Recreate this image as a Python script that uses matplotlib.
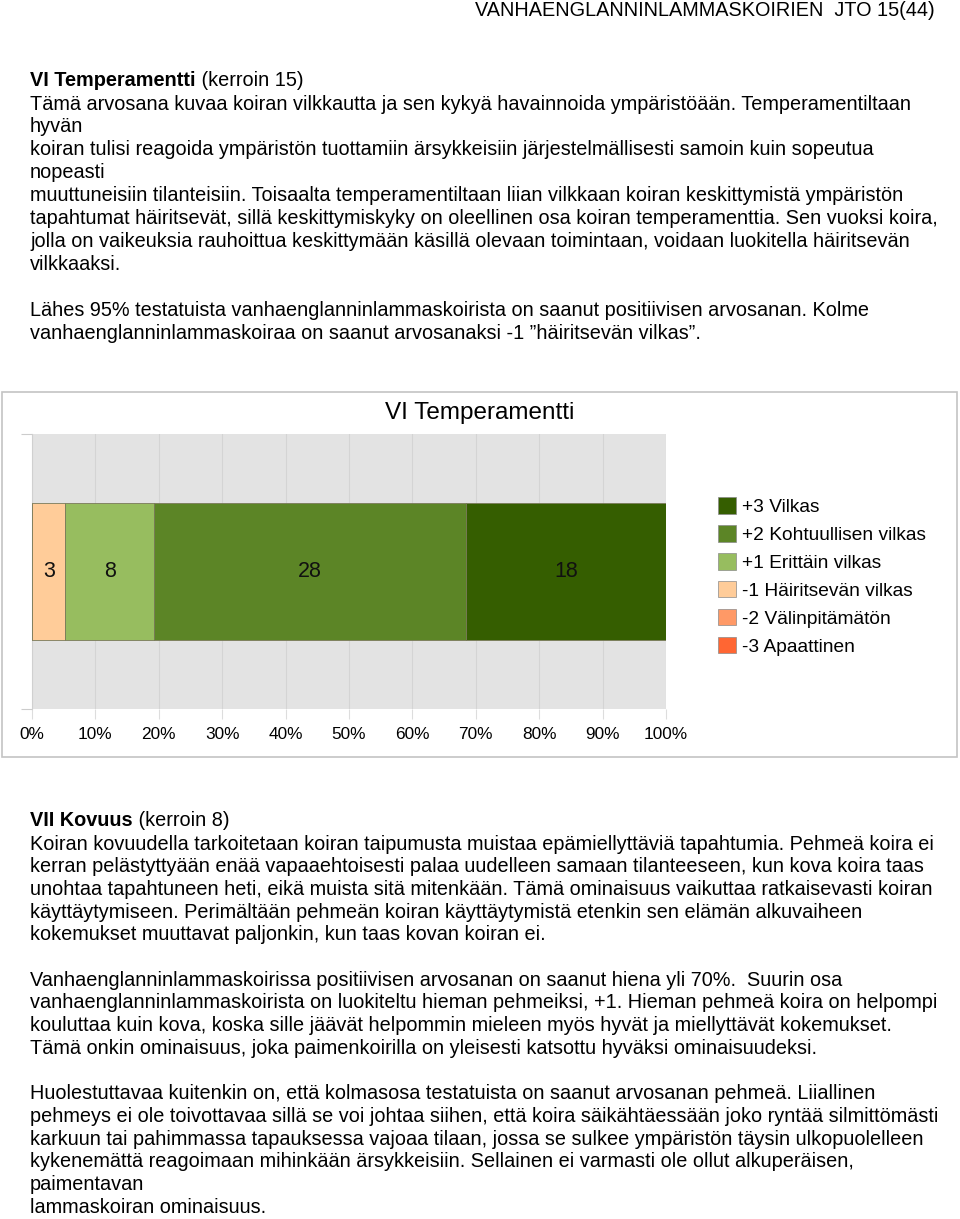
import matplotlib
matplotlib.use("Agg")
import matplotlib.pyplot as plt
from matplotlib.patches import Rectangle, Patch

plt.rcParams['font.family'] = ['Liberation Sans', 'DejaVu Sans']

# chart data: counts per grade, drawn left to right
grades = ["-3 Apaattinen", "-2 Välinpitämätön", "-1 Häiritsevän vilkas",
          "+1 Erittäin vilkas", "+2 Kohtuullisen vilkas", "+3 Vilkas"]
counts = [0, 0, 3, 8, 28, 18]
colors = ["#ff6633", "#ff9966", "#ffcc99", "#97bd5f", "#5c8526", "#355e00"]
xticks = [0, 10, 20, 30, 40, 50, 60, 70, 80, 90, 100]
chart_title = "VI Temperamentti"

header = "VANHAENGLANNINLAMMASKOIRIEN  JTO 15(44)"

top_lines = [
    "Tämä arvosana kuvaa koiran vilkkautta ja sen kykyä havainnoida ympäristöään. Temperamentiltaan",
    "hyvän",
    "koiran tulisi reagoida ympäristön tuottamiin ärsykkeisiin järjestelmällisesti samoin kuin sopeutua",
    "nopeasti",
    "muuttuneisiin tilanteisiin. Toisaalta temperamentiltaan liian vilkkaan koiran keskittymistä ympäristön",
    "tapahtumat häiritsevät, sillä keskittymiskyky on oleellinen osa koiran temperamenttia. Sen vuoksi koira,",
    "jolla on vaikeuksia rauhoittua keskittymään käsillä olevaan toimintaan, voidaan luokitella häiritsevän",
    "vilkkaaksi.",
    "",
    "Lähes 95% testatuista vanhaenglanninlammaskoirista on saanut positiivisen arvosanan. Kolme",
    "vanhaenglanninlammaskoiraa on saanut arvosanaksi -1 \u201dhäiritsevän vilkas\u201d.",
]

bottom_lines = [
    "Koiran kovuudella tarkoitetaan koiran taipumusta muistaa epämiellyttäviä tapahtumia. Pehmeä koira ei",
    "kerran pelästyttyään enää vapaaehtoisesti palaa uudelleen samaan tilanteeseen, kun kova koira taas",
    "unohtaa tapahtuneen heti, eikä muista sitä mitenkään. Tämä ominaisuus vaikuttaa ratkaisevasti koiran",
    "käyttäytymiseen. Perimältään pehmeän koiran käyttäytymistä etenkin sen elämän alkuvaiheen",
    "kokemukset muuttavat paljonkin, kun taas kovan koiran ei.",
    "",
    "Vanhaenglanninlammaskoirissa positiivisen arvosanan on saanut hiena yli 70%.  Suurin osa",
    "vanhaenglanninlammaskoirista on luokiteltu hieman pehmeiksi, +1. Hieman pehmeä koira on helpompi",
    "kouluttaa kuin kova, koska sille jäävät helpommin mieleen myös hyvät ja miellyttävät kokemukset.",
    "Tämä onkin ominaisuus, joka paimenkoirilla on yleisesti katsottu hyväksi ominaisuudeksi.",
    "",
    "Huolestuttavaa kuitenkin on, että kolmasosa testatuista on saanut arvosanan pehmeä. Liiallinen",
    "pehmeys ei ole toivottavaa sillä se voi johtaa siihen, että koira säikähtäessään joko ryntää silmittömästi",
    "karkuun tai pahimmassa tapauksessa vajoaa tilaan, jossa se sulkee ympäristön täysin ulkopuolelleen",
    "kykenemättä reagoimaan mihinkään ärsykkeisiin. Sellainen ei varmasti ole ollut alkuperäisen,",
    "paimentavan",
    "lammaskoiran ominaisuus.",
]

W, H = 960, 1219
fig = plt.figure(figsize=(W / 100, H / 100), dpi=100)
FS = 14.3
LEFT = 30 / W


def fy(py):
    return 1 - py / H


def heading(py, bold, rest):
    t = fig.text(LEFT, fy(py), bold, fontsize=FS, fontweight="bold", va="center")
    fig.canvas.draw()
    bb = t.get_window_extent()
    fig.text(bb.x1 / W, fy(py), rest, fontsize=FS, va="center")


def paragraph(lines, py0, step=22.95):
    for i, s in enumerate(lines):
        if s:
            fig.text(LEFT, fy(py0 + i * step), s, fontsize=FS, va="center")


fig.text(935 / W, fy(11), header, fontsize=FS, ha="right", va="center")
heading(80, "VI Temperamentti", " (kerroin 15)")
paragraph(top_lines, 104)
heading(821, "VII Kovuus", " (kerroin 8)")
paragraph(bottom_lines, 844, step=22.7)

# chart frame
fig.patches.append(Rectangle((2 / W, fy(757)), 955 / W, 365 / H, transform=fig.transFigure,
                             fill=False, edgecolor="#c4c4c4", linewidth=1.2))
fig.text(480 / W, fy(413), chart_title, fontsize=17.5, ha="center", va="center")

ax = fig.add_axes([32 / W, fy(709), 634 / W, 275 / H])
ax.set_facecolor("#e3e3e3")
total = sum(counts)
left = 0
for g, c, col in zip(grades, counts, colors):
    w = c / total * 100
    ax.barh(0, w, left=left, height=1.0, color=col, edgecolor="#7a7a5a", linewidth=0.6, zorder=3)
    if c > 0:
        ax.text(left + w / 2, 0, str(c), ha="center", va="center", fontsize=15.5, color="#111111", zorder=4)
    left += w
ax.set_xlim(0, 100)
ax.set_ylim(-1, 1)
ax.set_xticks(xticks)
ax.set_xticklabels([f"{v}%" for v in xticks], fontsize=12.4)
ax.set_yticks([-1, 1])
ax.set_yticklabels([])
ax.tick_params(axis="x", length=7, color="#dddddd", pad=6)
ax.tick_params(axis="y", length=8, color="#cccccc")
ax.grid(axis="x", color="#d4d4d4", linewidth=0.8, zorder=1)
for s in ["top", "right", "bottom"]:
    ax.spines[s].set_visible(False)
ax.spines["left"].set_color("#d0d0d0")

handles = [Patch(facecolor=col, edgecolor="#8a8a8a", linewidth=0.5) for col in colors][::-1]
fig.legend(handles, grades[::-1], loc="upper left", bbox_to_anchor=(705 / W, fy(484)),
           frameon=False, fontsize=13.75, handlelength=0.94, handleheight=0.94,
           handletextpad=0.3, labelspacing=0.48, borderpad=0.2)

fig.savefig("out.png", dpi=100)
